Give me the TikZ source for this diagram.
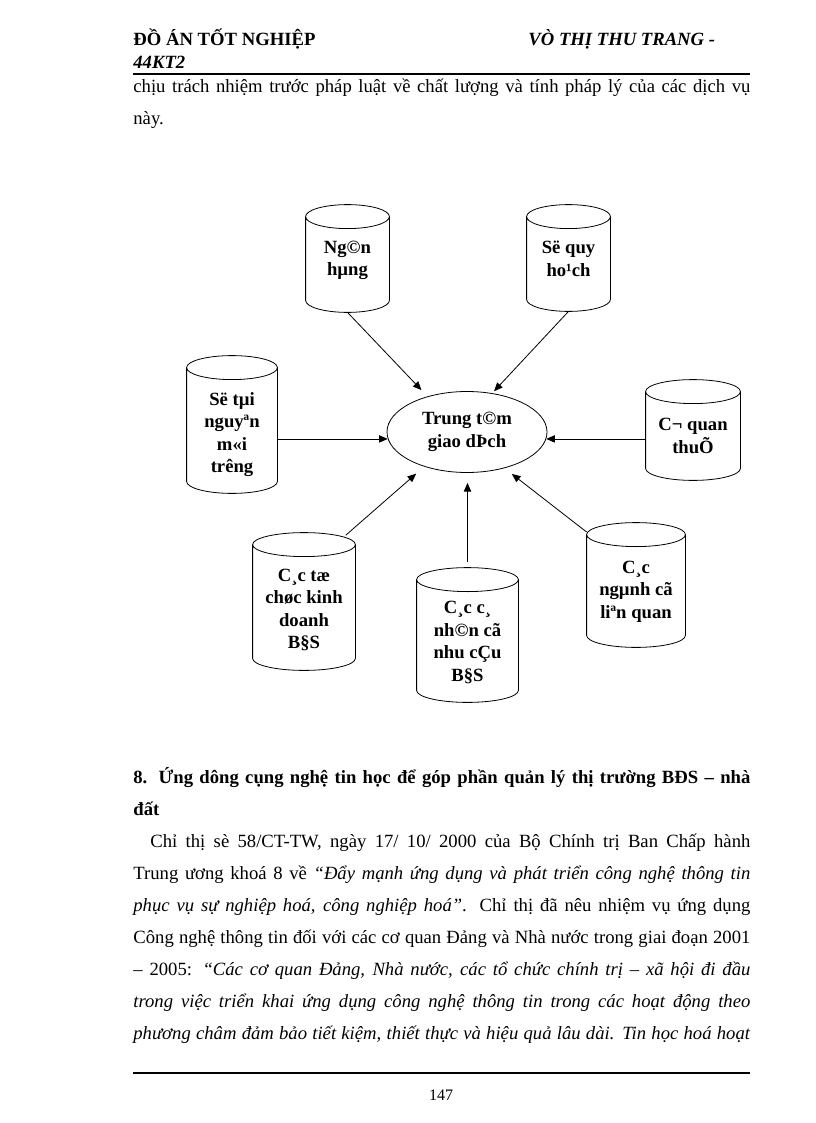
\documentclass[tikz,border=0pt]{standalone}
\usepackage{fontspec}
\setmainfont{Liberation Serif}
\usetikzlibrary{arrows.meta,calc,shapes.geometric}
\def\px{0.75pt}
\newcommand\jl[2][462.75pt]{\makebox[#1][s]{#2}}
\tikzset{
  cyl/.style 2 args={rectangle, minimum width=#1*\px, minimum height=#2*\px, inner sep=0pt},
  cyltext/.style={font=\fontsize{14}{16.8}\selectfont\bfseries, align=center, inner sep=0pt},
  txt/.style={anchor=base west, inner sep=0pt, font=\fontsize{14}{16.8}\selectfont},
  link/.style={->, line width=0.6pt}
}

\begin{document}
\begin{tikzpicture}[x=0.75pt, y=-0.75pt, >={Triangle[length=6.5pt,width=5.5pt]}, line width=0.6pt]
  \useasboundingbox (0,0) rectangle (816,1123);
  % header
  \node[txt, font=\fontsize{14}{16.8}\selectfont\bfseries] (hd1) at (133,46) {ĐỒ ÁN TỐT NGHIỆP};
  \node[txt, font=\fontsize{14}{16.8}\selectfont\bfseries\itshape] (hd2) at (528,46) {VÒ THỊ THU TRANG -};
  \node[txt, font=\fontsize{14}{16.8}\selectfont\bfseries\itshape] (hd3) at (133,69) {44KT2};
  \draw[line width=1.5pt] (133,74) -- (750,74);
  \node[txt] (p1) at (133,93) {\jl{chịu trách nhiệm trước pháp luật về chất lượng và tính pháp lý của các dịch vụ}};
  \node[txt] (p2) at (133,125) {này.};

  % centre and the cylinders round it
  \node[ellipse, draw, minimum width=160*\px, minimum height=81*\px, inner sep=0pt, cyltext] (gd) at (467,432) {Trung t©m\\giao dÞch};
  \node[cyl={83}{107}, label={[cyltext, yshift=-1.5pt]center:Ng©n\\hµng}] (nh) at (347.5,258.5) {};
  \node[cyl={83}{106}, label={[cyltext, yshift=-0.75pt]center:Së quy\\ho¹ch}] (qh) at (568.5,258) {};
  \node[cyl={90}{137}, label={[cyltext, yshift=-7.5pt]center:Së tµi\\nguyªn\\m«i\\trêng}] (tn) at (232,424.5) {};
  \node[cyl={94}{100}, label={[cyltext, yshift=-4.5pt]center:C¬ quan\\thuÕ}] (th) at (693,430) {};
  \node[cyl={102}{137}, label={[cyltext, yshift=-6.4pt]center:C¸c tæ\\chøc kinh\\doanh\\B§S}] (tc) at (304,601.5) {};
  \node[cyl={101}{134}, label={[cyltext, yshift=-5.6pt]center:C¸c c¸\\nh©n cã\\nhu cÇu\\B§S}] (cn) at (467.5,635) {};
  \node[cyl={98}{124}, label={[cyltext, yshift=-4.9pt]center:C¸c\\ngµnh cã\\liªn quan}] (ng) at (636,585) {};
  \foreach \c in {nh,qh,tn,th,tc,cn,ng}
    \draw let \p1=(\c.west), \p2=(\c.east), \n1={(\x2-\x1)/2} in
      ([yshift=-9pt]\c.north west) -- ([yshift=9pt]\c.south west)
      arc[start angle=180, end angle=360, x radius=\n1, y radius=9pt]
      -- ([yshift=-9pt]\c.north east)
      ([yshift=-9pt]\c.north) ellipse[x radius=\n1, y radius=9pt];

  % arrows into the centre
  \draw[link, shorten >=6.5pt] (nh.south) -- (gd.138);
  \draw[link, shorten >=2pt] (qh.south) -- (gd.57);
  \draw[link] (tn.east |- gd.185) -- (gd.185);
  \draw[link] (th.west |- gd.355) -- (gd.355);
  \draw[link, shorten <=-3pt, shorten >=8pt] (tc.57) -- (gd.219);
  \draw[link, shorten <=4.5pt, shorten >=7.5pt] (cn.north) -- (cn.north |- gd.south);
  \draw[link, shorten >=7pt] (ng.133) -- (gd.316);

  % section text
  \node[txt, font=\fontsize{14}{16.8}\selectfont\bfseries] (s1) at (133,783) {\jl{8. Ứng dông cụng nghệ tin học để góp phần quản lý thị trường BĐS – nhà}};
  \node[txt, font=\fontsize{14}{16.8}\selectfont\bfseries] (s2) at (133,815) {đất};
  \node[txt] (l1) at (150,847) {\jl[450pt]{Chỉ thị sè 58/CT-TW, ngày 17/ 10/ 2000 của Bộ Chính trị Ban Chấp hành}};
  \node[txt] (l2) at (133,879) {\jl{Trung ương khoá 8 về \textit{“Đẩy mạnh ứng dụng và phát triển công nghệ thông tin}}};
  \node[txt] (l3) at (133,911) {\jl{\textit{phục vụ sự nghiệp hoá, công nghiệp hoá”}. Chỉ thị đã nêu nhiệm vụ ứng dụng}};
  \node[txt] (l4) at (133,943) {\jl{Công nghệ thông tin đối với các cơ quan Đảng và Nhà nước trong giai đoạn 2001}};
  \node[txt] (l5) at (133,975) {\jl{– 2005: \textit{“Các cơ quan Đảng, Nhà nước, các tổ chức chính trị – xã hội đi đầu}}};
  \node[txt] (l6) at (133,1007) {\jl{\textit{trong việc triển khai ứng dụng công nghệ thông tin trong các hoạt động theo}}};
  \node[txt] (l7) at (133,1039) {\jl{\textit{phương châm đảm bảo tiết kiệm, thiết thực và hiệu quả lâu dài. Tin học hoá hoạt}}};

  % footer
  \draw[line width=1.5pt] (133,1073) -- (750,1073);
  \node[anchor=base, inner sep=0pt, font=\fontsize{12}{14}\selectfont] (pg) at (441,1100) {147};
\end{tikzpicture}
\end{document}
